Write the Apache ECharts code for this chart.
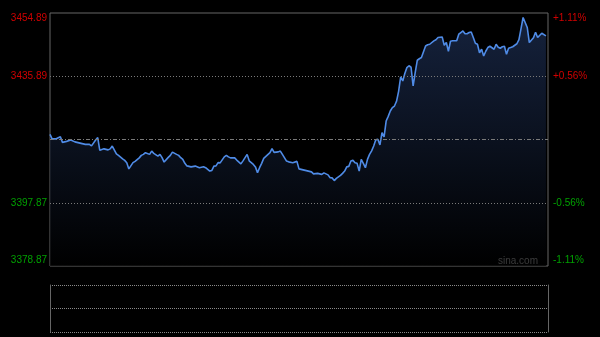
<!DOCTYPE html>
<html>
<head>
<meta charset="utf-8">
<script src="https://cdn.jsdelivr.net/npm/echarts@6/dist/echarts.min.js"></script>
<style>
html,body{margin:0;padding:0;background:#000;}
#chart{width:600px;height:337px;}
</style>
</head>
<body>
<div id="chart"></div>
<script>
// ---- data ----
const prevClose = 3416.88;
const priceMin = 3378.87;
const priceMax = 3454.89;
const leftTicks = [3378.87, 3397.87, 3435.89, 3454.89];
const rightTickLabels = ['-1.11%', '-0.56%', '+0.56%', '+1.11%'];
const minutes = [0,1,3,5,6,8,10,12,14,17,19,20,22,23,24,26,28,29,30,32,33,35,36,37,38,40,41,43,44,45,46,48,49,50,52,53,54,55,57,58,59,61,62,63,64,65,66,68,70,72,74,75,76,77,78,79,80,81,82,84,85,86,87,89,90,92,93,95,96,98,99,100,101,102,103,106,107,108,110,111,112,114,115,117,119,120,122,123,125,126,127,129,131,132,134,135,136,137,138,140,141,142,143,144,145,146,147,148,149,150,151,152,153,154,155,156,157,158,159,160,161,162,163,164,165,166,167,168,169,170,171,172,173,174,175,176,177,178,179,181,182,183,185,186,187,189,190,191,192,193,194,196,197,198,199,200,201,202,203,204,205,206,207,208,209,210,211,212,214,215,216,217,218,219,220,221,222,223,225,226,227,228,230,231,233,234,235,237,239];
const prices = [3418.43,3417.08,3417.08,3417.68,3416.02,3416.32,3416.71,3416.17,3415.87,3415.42,3415.42,3414.97,3416.71,3417.44,3413.62,3414.07,3413.77,3414.07,3414.91,3412.56,3412.11,3411.06,3410.61,3409.92,3408.05,3409.92,3410.31,3411.36,3412.11,3412.41,3412.92,3412.41,3413.41,3412.71,3411.90,3412.41,3411.42,3410.10,3411.51,3412.11,3413.10,3412.41,3412.11,3411.42,3410.91,3409.71,3408.95,3408.65,3408.89,3408.41,3408.71,3408.41,3407.90,3407.39,3407.60,3408.89,3408.95,3409.92,3409.86,3411.66,3412.11,3411.66,3411.36,3411.36,3410.70,3409.55,3410.46,3412.41,3410.46,3409.40,3408.65,3406.91,3408.41,3409.71,3411.21,3412.92,3414.13,3413.01,3413.16,3413.41,3412.41,3410.40,3410.16,3409.92,3410.31,3408.05,3407.75,3407.60,3407.30,3407.15,3406.55,3406.70,3406.40,3406.85,3406.25,3405.40,3405.34,3404.53,3405.19,3406.10,3406.70,3407.39,3408.65,3408.80,3410.40,3410.61,3409.92,3409.71,3407.39,3410.91,3409.71,3408.41,3410.91,3412.41,3413.47,3414.91,3416.77,3416.93,3415.27,3418.94,3417.68,3422.43,3423.84,3425.44,3426.46,3426.94,3428.36,3431.36,3435.73,3434.46,3436.69,3438.49,3439.04,3438.59,3432.96,3436.99,3440.69,3441.14,3441.50,3444.99,3445.35,3445.50,3446.50,3446.86,3447.52,3447.70,3445.20,3446.02,3443.40,3446.41,3446.56,3446.56,3448.51,3449.02,3449.51,3448.66,3448.66,3449.02,3449.20,3447.52,3445.80,3445.50,3442.95,3444.00,3441.98,3443.40,3444.51,3444.90,3444.00,3445.50,3444.60,3444.30,3444.75,3444.90,3442.50,3444.30,3444.51,3444.75,3445.65,3446.86,3450.17,3453.54,3450.53,3446.02,3447.46,3449.11,3447.52,3448.81,3448.00];
const dottedLevels = [3397.87, 3435.89];

// ---- chart ----
const chart = echarts.init(document.getElementById('chart'), null, {renderer: 'canvas'});
const FONT = '"Liberation Sans", Arial, sans-serif';
const RED = '#d00000', GREEN = '#00a000';
const seriesData = minutes.map((m, i) => [m, prices[i]]);

function labelText(v, txt) {
  if (v === priceMax) return '\n' + txt;
  if (v === priceMin) return txt + '\n';
  return txt;
}
function labelColor(v) { return v > prevClose ? RED : GREEN; }

const option = {
  backgroundColor: '#000',
  animation: false,
  grid: [
    {left: 50, top: 13, width: 498, height: 253, show: true, borderColor: '#666', borderWidth: 1, backgroundColor: 'transparent'},
    {left: 50, top: 285, width: 498, height: 47, show: false}
  ],
  xAxis: [
    {type: 'value', gridIndex: 0, min: 0, max: 240, show: false},
    {type: 'value', gridIndex: 1, min: 0, max: 240, show: false}
  ],
  yAxis: [
    {type: 'value', gridIndex: 0, position: 'left', min: priceMin, max: priceMax,
     axisLine: {show: false}, axisTick: {show: false}, splitLine: {show: false},
     axisLabel: {customValues: leftTicks, margin: 3, fontSize: 10, fontFamily: FONT, lineHeight: 11,
       color: (v) => labelColor(Number(v)),
       formatter: (v) => labelText(v, v.toFixed(2))}},
    {type: 'value', gridIndex: 0, position: 'right', min: priceMin, max: priceMax,
     axisLine: {show: false}, axisTick: {show: false}, splitLine: {show: false},
     axisLabel: {customValues: leftTicks, margin: 5, fontSize: 10, fontFamily: FONT, lineHeight: 11,
       color: (v) => labelColor(Number(v)),
       formatter: (v) => labelText(v, rightTickLabels[leftTicks.indexOf(v)])}},
    {type: 'value', gridIndex: 1, position: 'left', min: 0, max: 2, interval: 1,
     axisLine: {show: true, lineStyle: {color: '#666', width: 1}}, axisTick: {show: false}, axisLabel: {show: false},
     splitLine: {show: true, lineStyle: {color: '#8a8a8a', type: [1, 1], width: 1}}},
    {type: 'value', gridIndex: 1, position: 'right', min: 0, max: 2, interval: 1,
     axisLine: {show: true, lineStyle: {color: '#666', width: 1}}, axisTick: {show: false}, axisLabel: {show: false},
     splitLine: {show: false}}
  ],
  series: [
    {type: 'line', xAxisIndex: 0, yAxisIndex: 0, data: seriesData, showSymbol: false, smooth: false,
     lineStyle: {color: '#4f8be6', width: 1.6},
     areaStyle: {color: new echarts.graphic.LinearGradient(0, 0, 0, 1, [
       {offset: 0, color: 'rgba(30,48,86,1)'},
       {offset: 1, color: 'rgba(0,0,0,1)'}
     ])},
     markLine: {silent: true, symbol: 'none', label: {show: false}, animation: false,
       data: [
         ...dottedLevels.map(v => ({yAxis: v, lineStyle: {color: '#7a7a7a', type: [1, 2], width: 1}})),
         {yAxis: prevClose, lineStyle: {color: '#7a7a7a', type: [4, 2, 1, 2], width: 1}}
       ]}
    },
    {type: 'line', xAxisIndex: 1, yAxisIndex: 2, data: [], showSymbol: false}
  ],
  graphic: [
    {type: 'text', right: 62, top: 256, style: {text: 'sina.com', fill: '#bdbdbd', font: '10px ' + FONT}}
  ]
};
chart.setOption(option);
</script>
</body>
</html>
